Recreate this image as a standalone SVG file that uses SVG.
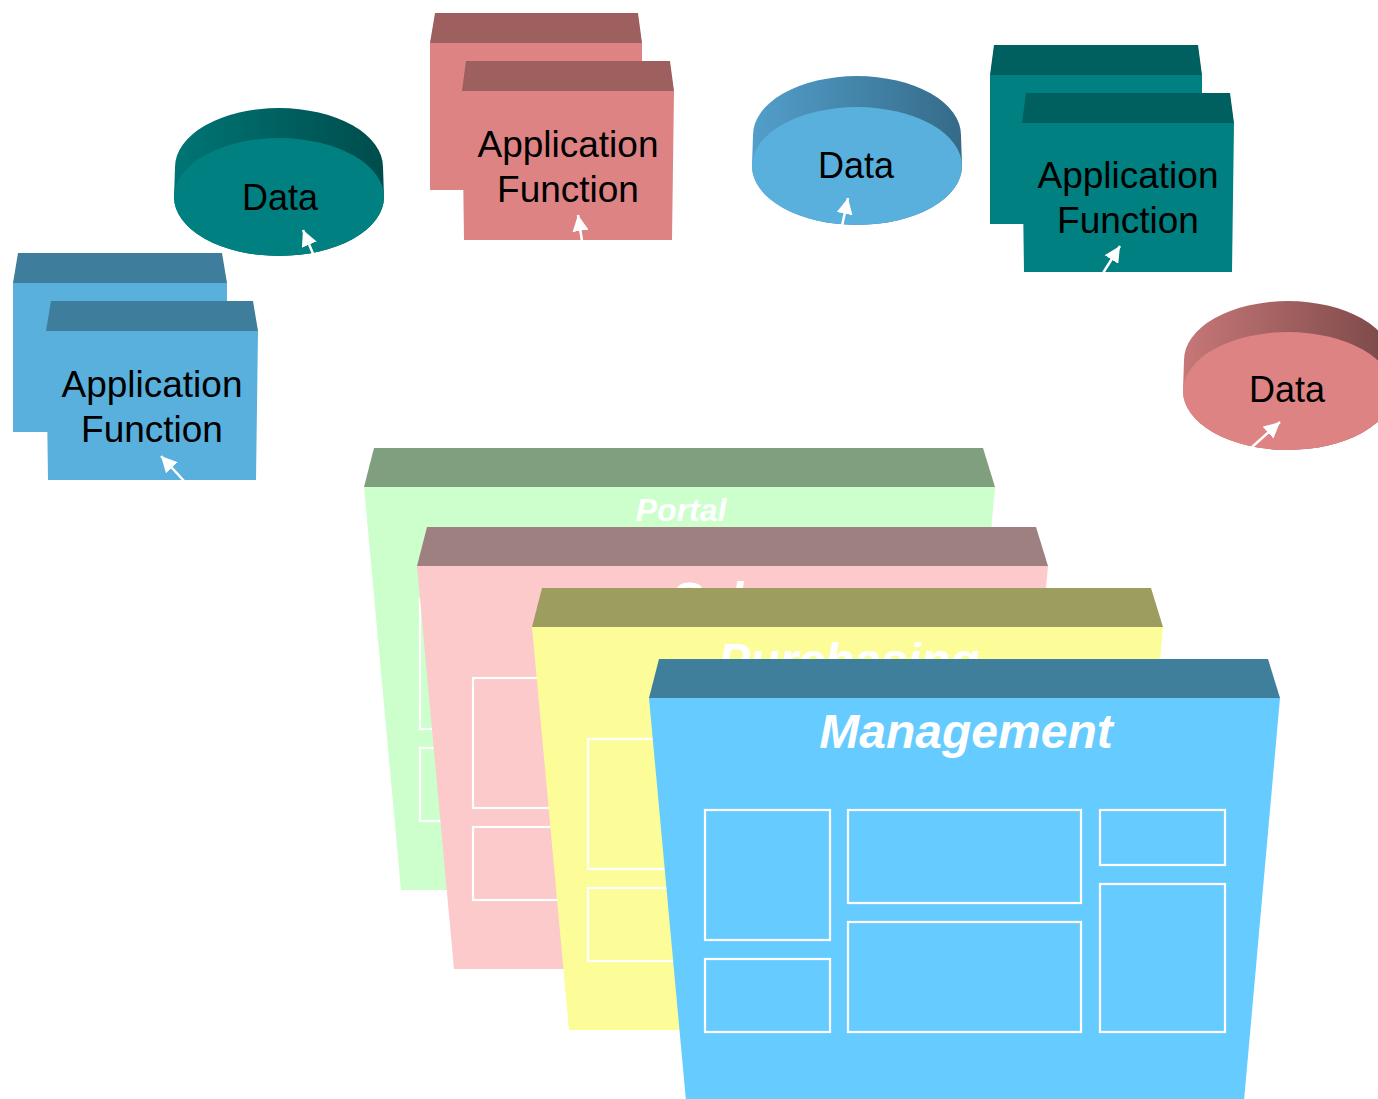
<svg xmlns="http://www.w3.org/2000/svg" width="1378" height="1099" viewBox="0 0 1378 1099">
<style>
.lbl{font-family:"Liberation Sans",Arial,sans-serif;font-size:37px;fill:#000;text-anchor:middle}
.dlbl{font-family:"Liberation Sans",Arial,sans-serif;font-size:36px;fill:#000;text-anchor:middle}
.ptitle{font-family:"Liberation Sans",Arial,sans-serif;font-weight:bold;font-style:italic;font-size:48px;fill:#fff;text-anchor:middle}
.inner{fill:none;stroke:#fff;stroke-width:2.2}
.conn{stroke:#fff;stroke-width:2.5;fill:none}
</style>
<defs>
<marker id="ah" markerUnits="userSpaceOnUse" markerWidth="18" markerHeight="16" refX="16" refY="8" orient="auto">
<path d="M0,0 L16,8 L0,16 Z" fill="#fff"/>
</marker>
<linearGradient id="gTeal" x1="0" x2="1" y1="0" y2="0"><stop offset="0" stop-color="#007575"/><stop offset="1" stop-color="#004C4C"/></linearGradient>
<linearGradient id="gBlue" x1="0" x2="1" y1="0" y2="0"><stop offset="0" stop-color="#529FCB"/><stop offset="1" stop-color="#356A88"/></linearGradient>
<linearGradient id="gPink" x1="0" x2="1" y1="0" y2="0"><stop offset="0" stop-color="#C77777"/><stop offset="1" stop-color="#7A4848"/></linearGradient>
<g id="boxes">
<rect class="inner" x="56" y="112" width="125" height="130"/>
<rect class="inner" x="56" y="261" width="125" height="73"/>
<rect class="inner" x="199" y="112" width="233" height="93"/>
<rect class="inner" x="199" y="224" width="233" height="110"/>
<rect class="inner" x="451" y="112" width="125" height="55"/>
<rect class="inner" x="451" y="186" width="125" height="148"/>
</g>
</defs>
<rect width="1378" height="1099" fill="#fff"/>

<!-- Panels -->
<g id="panel-portal" transform="translate(364,487)">
<polygon points="10,-39 619,-39 631,0 0,0" fill="#7F9F7F"/>
<polygon points="0,0 631,0 595,403 37,403" fill="#CCFFCC"/>
<use href="#boxes"/>
<text class="ptitle" x="317" y="34" style="font-size:32px">Portal</text>
</g>
<g id="panel-sales" transform="translate(417,566)">
<polygon points="10,-39 619,-39 631,0 0,0" fill="#9E8080"/>
<polygon points="0,0 631,0 595,403 37,403" fill="#FCCACA"/>
<use href="#boxes"/>
<text class="ptitle" x="317" y="50">Sales</text>
</g>
<g id="panel-purchasing" transform="translate(532,627)">
<polygon points="10,-39 619,-39 631,0 0,0" fill="#9E9D60"/>
<polygon points="0,0 631,0 595,403 37,403" fill="#FCFC99"/>
<use href="#boxes"/>
<text class="ptitle" x="317" y="50">Purchasing</text>
</g>
<g id="panel-management" transform="translate(649,698)">
<polygon points="10,-39 619,-39 631,0 0,0" fill="#3F7F9C"/>
<polygon points="0,0 631,0 595,403 37,403" fill="#66CCFF"/>
<use href="#boxes"/>
<text class="ptitle" x="317" y="50">Management</text>
</g>

<!-- Application Function (blue) -->
<g id="appfunc-blue">
<polygon points="18,253 222,253 227,283 13,283" fill="#3E7D9C"/>
<rect x="13" y="283" width="214" height="149" fill="#59B0DC"/>
<polygon points="51,301 253,301 258,331 46,331" fill="#3E7D9C"/>
<polygon points="46,331 258,331 256,480 48,480" fill="#59B0DC"/>
<text class="lbl" x="152" y="397">Application</text>
<text class="lbl" x="152" y="442">Function</text>
</g>

<!-- Application Function (pink) -->
<g id="appfunc-pink">
<polygon points="435,13 638,13 642,43 430,43" fill="#9E5F5F"/>
<rect x="430" y="43" width="212" height="147" fill="#DE8383"/>
<polygon points="466,61 670,61 674,91 462,91" fill="#9E5F5F"/>
<polygon points="462,91 674,91 672,240 464,240" fill="#DE8383"/>
<text class="lbl" x="568" y="157">Application</text>
<text class="lbl" x="568" y="202">Function</text>
</g>

<!-- Application Function (teal) -->
<g id="appfunc-teal">
<polygon points="994,45 1198,45 1202,75 990,75" fill="#005F5F"/>
<rect x="990" y="75" width="212" height="149" fill="#008080"/>
<polygon points="1026,93 1230,93 1234,123 1022,123" fill="#005F5F"/>
<polygon points="1022,123 1234,123 1232,272 1024,272" fill="#008080"/>
<text class="lbl" x="1128" y="188">Application</text>
<text class="lbl" x="1128" y="233">Function</text>
</g>

<!-- Data (teal) -->
<g id="data-teal">
<path d="M175,167 A104,59 0 0 1 383,167 L384,197 A105,59 0 0 1 174,197 Z" fill="url(#gTeal)"/>
<ellipse cx="279" cy="197" rx="105" ry="59" fill="#008080"/>
<text class="dlbl" x="280" y="210">Data</text>
</g>

<!-- Data (blue) -->
<g id="data-blue">
<path d="M753,135 A104,59 0 0 1 961,135 L962,166 A105,59 0 0 1 752,166 Z" fill="url(#gBlue)"/>
<ellipse cx="857" cy="166" rx="105" ry="59" fill="#59B0DC"/>
<text class="dlbl" x="856" y="178">Data</text>
</g>

<!-- Data (pink) -->
<g id="data-pink">
<path d="M1184,360 A104,59 0 0 1 1392,360 L1393,391 A105,59 0 0 1 1183,391 Z" fill="url(#gPink)"/>
<ellipse cx="1288" cy="391" rx="105" ry="59" fill="#DE8383"/>
<text class="dlbl" x="1287" y="402">Data</text>
</g>

<!-- Connectors -->
<g id="connectors">
<line class="conn" x1="185" y1="482" x2="161" y2="456" marker-end="url(#ah)"/>
<line class="conn" x1="314" y1="256" x2="303" y2="230" marker-end="url(#ah)"/>
<line class="conn" x1="582" y1="241" x2="578" y2="215" marker-end="url(#ah)"/>
<line class="conn" x1="842" y1="226" x2="848" y2="198" marker-end="url(#ah)"/>
<line class="conn" x1="1103" y1="273" x2="1120" y2="246" marker-end="url(#ah)"/>
<line class="conn" x1="1252" y1="447" x2="1280" y2="422" marker-end="url(#ah)"/>
</g>
</svg>
